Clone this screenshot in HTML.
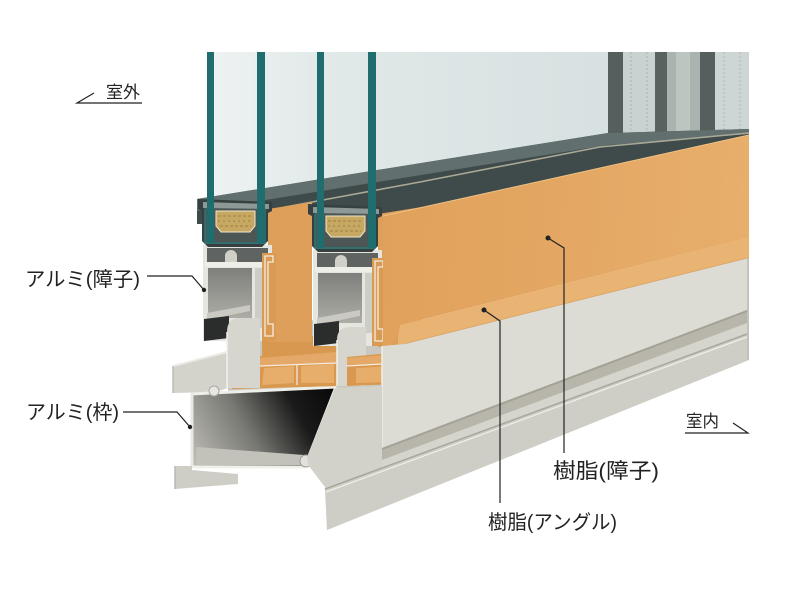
<!DOCTYPE html>
<html><head><meta charset="utf-8">
<style>
html,body{margin:0;padding:0;background:#fff;}
svg{display:block;}
text{font-family:"Liberation Sans","Noto Sans CJK JP",sans-serif;fill:#222;}
</style></head><body>
<svg width="800" height="599" viewBox="0 0 800 599" xmlns="http://www.w3.org/2000/svg">
<defs>
<linearGradient id="glass" x1="207" y1="0" x2="749" y2="0" gradientUnits="userSpaceOnUse">
 <stop offset="0" stop-color="#eef2f2"/>
 <stop offset="0.25" stop-color="#e0e8e8"/>
 <stop offset="1" stop-color="#d3dddd"/>
</linearGradient>
<linearGradient id="orangeF" x1="383" y1="216" x2="749" y2="240" gradientUnits="userSpaceOnUse">
 <stop offset="0" stop-color="#e0a15b"/>
 <stop offset="1" stop-color="#e7ae6c"/>
</linearGradient>
<linearGradient id="chamber" x1="195" y1="466" x2="330" y2="390" gradientUnits="userSpaceOnUse">
 <stop offset="0" stop-color="#bdbdb5"/>
 <stop offset="0.4" stop-color="#7a7a75"/>
 <stop offset="0.75" stop-color="#1a1a1a"/>
 <stop offset="1" stop-color="#0a0a0a"/>
</linearGradient>
<linearGradient id="mainch" x1="0" y1="0" x2="0" y2="1">
 <stop offset="0" stop-color="#7e7f7b"/>
 <stop offset="1" stop-color="#adada6"/>
</linearGradient>
</defs>

<!-- glass -->
<polygon points="207,52 749,52 749,130 608,134 207,198" fill="url(#glass)"/>

<!-- right side frames -->
<rect x="608" y="52" width="15" height="84" fill="#55605e"/>
<rect x="623" y="52" width="32" height="84" fill="#cad2d1"/>
<line x1="631" y1="52" x2="631" y2="134" stroke="#b6c0bf" stroke-width="1.5" stroke-dasharray="2 2"/>
<line x1="647" y1="52" x2="647" y2="134" stroke="#b6c0bf" stroke-width="1.5" stroke-dasharray="2 2"/>
<rect x="655" y="52" width="12" height="84" fill="#58625f"/>
<rect x="667" y="52" width="33" height="84" fill="#aab4ae"/>
<rect x="676" y="52" width="14" height="84" fill="#bcc5c0"/>
<rect x="700" y="52" width="15" height="84" fill="#55605e"/>
<rect x="715" y="52" width="34" height="84" fill="#ced6d5"/>
<line x1="724" y1="52" x2="724" y2="132" stroke="#b8c2c1" stroke-width="1.5" stroke-dasharray="2 2"/>
<line x1="740" y1="52" x2="740" y2="132" stroke="#b8c2c1" stroke-width="1.5" stroke-dasharray="2 2"/>

<!-- dark sash rail band -->
<polygon points="197,199 608,133 749,129 749,142 383,222 197,224" fill="#3f4a4a"/>
<polygon points="197,199 608,133 749,129 749,134 608,145 197,211" fill="#61706e"/>
<polyline points="285,207 420,182 600,147 749,133" fill="none" stroke="#aaa996" stroke-width="1.6"/>

<!-- backdrop for frame area -->
<polygon points="228,330 400,310 400,392 228,392" fill="#c9c8c0"/>

<!-- exterior top fin -->
<polygon points="173,366 227,352 234,352 234,386 216,392 173,393" fill="#d4d3cb"/>
<line x1="173" y1="366" x2="227" y2="352" stroke="#ecebe5" stroke-width="2"/>
<line x1="173" y1="366" x2="173" y2="393" stroke="#bdbcb4" stroke-width="1.5"/>

<!-- lower chamber -->
<polygon points="193,395 334,388 308,456 303,466 193,466" fill="url(#chamber)"/>
<polygon points="196,447 304,455 304,465 196,465" fill="#c2c2ba"/>
<line x1="191" y1="394" x2="336" y2="387" stroke="#efefe9" stroke-width="3"/>
<line x1="192" y1="393" x2="192" y2="468" stroke="#e8e8e2" stroke-width="3"/>
<line x1="192" y1="467" x2="306" y2="467" stroke="#f0f0ea" stroke-width="3"/>
<line x1="336" y1="387" x2="307" y2="461" stroke="#f0f0ea" stroke-width="3"/>
<circle cx="214" cy="391" r="5" fill="#e8e8e2" stroke="#a9a9a2" stroke-width="1"/>
<circle cx="306" cy="461" r="6" fill="#e2e2dc" stroke="#9a9a94" stroke-width="1"/>

<!-- bottom fin -->
<polygon points="175,466 192,466 192,470 238,474 238,484 175,489" fill="#cfcec6"/>
<line x1="175" y1="466" x2="175" y2="489" stroke="#b9b8b0" stroke-width="1.5"/>

<!-- orange frame resin -->
<polygon points="232,360 262,356 262,340 337,334 337,386 232,389" fill="#d9984f"/>
<polygon points="233,358 337,352 337,363 233,366" fill="#e4a868"/>
<polygon points="240,368 294,366 294,383 236,386" fill="#e7ad6a"/>
<polygon points="301,366 334,364 334,383 301,383" fill="#e7ad6a"/>
<line x1="233" y1="366" x2="337" y2="363" stroke="#f4ece0" stroke-width="1.2"/>
<line x1="297" y1="365" x2="297" y2="385" stroke="#f4ece0" stroke-width="1.2"/>

<!-- SASH 1 -->
<g>
 <polygon points="268,209 312,202 312,342 268,342" fill="#dd9f5a"/>
 <rect x="203" y="245" width="69" height="96" fill="#e6e6e0"/>
 <rect x="207" y="248" width="61" height="14" fill="#5f6361"/>
 <circle cx="231" cy="256" r="6" fill="#d0d0c9"/>
 <rect x="225" y="256" width="12" height="7" fill="#d0d0c9"/>
 <rect x="205" y="262" width="65" height="5" fill="#eeeee8"/>
 <rect x="208" y="268" width="44" height="50" fill="url(#mainch)"/>
 <rect x="255" y="268" width="12" height="60" fill="#cdcdc6"/>
 <polygon points="207,313 250,305 250,311 207,320" fill="#cacac2"/>
 <polygon points="204,319 229,316 229,338 204,341" fill="#2b2d2d"/>
 <rect x="262" y="253" width="14" height="88" fill="#d99a54"/>
 <path d="M265,256 h8 v6 h-5 v62 h5 v12 h-8 z" fill="none" stroke="#f3ede2" stroke-width="1.3"/>
 <path d="M198,199 L272,202 L272,211 L268,213 L268,241 L262,247 L208,247 L202,241 L202,211 L198,209 Z" fill="#364040"/>
 <rect x="205" y="206" width="60" height="38" fill="#4c5655"/>
 <polygon points="203,202 269,204 269,209 203,208" fill="#8e9896"/>
 <path d="M205,209 V243 H265 V209" fill="none" stroke="#2c7776" stroke-width="1.5"/>
 <polygon points="216,211 255,211 255,226 250,232 221,232 216,226" fill="#c6a862" stroke="#efe6cf" stroke-width="1"/>
 <line x1="218" y1="216" x2="253" y2="216" stroke="#9c8040" stroke-width="1" stroke-dasharray="3 2"/>
 <line x1="218" y1="221" x2="253" y2="221" stroke="#9c8040" stroke-width="1" stroke-dasharray="2 3"/>
 <line x1="220" y1="226" x2="251" y2="226" stroke="#9c8040" stroke-width="1" stroke-dasharray="3 2"/>
</g>
<!-- rail under sash 1 -->
<path d="M227,332 Q227,318 240,318 L260,318 L260,388 L227,388 Z" fill="#d6d6ce"/>
<line x1="227" y1="332" x2="227" y2="388" stroke="#f2f2ec" stroke-width="1.5"/>
<!-- orange frame top re-draw (in front of rail lower part) -->
<polygon points="260,356 337,350 337,386 260,388" fill="#d9984f"/>
<polygon points="260,358 337,352 337,363 260,366" fill="#e4a868"/>
<polygon points="264,368 294,366 294,383 262,385" fill="#e7ad6a"/>
<polygon points="301,366 334,364 334,383 301,383" fill="#e7ad6a"/>
<line x1="260" y1="366" x2="337" y2="363" stroke="#f4ece0" stroke-width="1.2"/>
<line x1="297" y1="365" x2="297" y2="385" stroke="#f4ece0" stroke-width="1.2"/>

<!-- SASH 2 -->
<g transform="translate(110,5)">
 <polygon points="268,209 312,202 312,342 268,342" fill="#dd9f5a"/>
 <rect x="203" y="245" width="69" height="96" fill="#e6e6e0"/>
 <rect x="207" y="248" width="61" height="14" fill="#5f6361"/>
 <circle cx="231" cy="256" r="6" fill="#d0d0c9"/>
 <rect x="225" y="256" width="12" height="7" fill="#d0d0c9"/>
 <rect x="205" y="262" width="65" height="5" fill="#eeeee8"/>
 <rect x="208" y="268" width="44" height="50" fill="url(#mainch)"/>
 <rect x="255" y="268" width="12" height="60" fill="#cdcdc6"/>
 <polygon points="207,313 250,305 250,311 207,320" fill="#cacac2"/>
 <polygon points="204,319 229,316 229,338 204,341" fill="#2b2d2d"/>
 <rect x="262" y="253" width="14" height="88" fill="#d99a54"/>
 <path d="M265,256 h8 v6 h-5 v62 h5 v12 h-8 z" fill="none" stroke="#f3ede2" stroke-width="1.3"/>
 <path d="M198,199 L272,202 L272,211 L268,213 L268,241 L262,247 L208,247 L202,241 L202,211 L198,209 Z" fill="#364040"/>
 <rect x="205" y="206" width="60" height="38" fill="#4c5655"/>
 <polygon points="203,202 269,204 269,209 203,208" fill="#8e9896"/>
 <path d="M205,209 V243 H265 V209" fill="none" stroke="#2c7776" stroke-width="1.5"/>
 <polygon points="216,211 255,211 255,226 250,232 221,232 216,226" fill="#c6a862" stroke="#efe6cf" stroke-width="1"/>
 <line x1="218" y1="216" x2="253" y2="216" stroke="#9c8040" stroke-width="1" stroke-dasharray="3 2"/>
 <line x1="218" y1="221" x2="253" y2="221" stroke="#9c8040" stroke-width="1" stroke-dasharray="2 3"/>
 <line x1="220" y1="226" x2="251" y2="226" stroke="#9c8040" stroke-width="1" stroke-dasharray="3 2"/>
</g>
<!-- rail under sash 2 -->
<path d="M337,340 Q337,327 350,327 L366,327 L366,386 L337,386 Z" fill="#d6d6ce"/>
<line x1="337" y1="340" x2="337" y2="386" stroke="#f2f2ec" stroke-width="1.5"/>

<!-- front orange panel -->
<polygon points="383,216 749,135 749,238 400,325 398,334 390,348 383,348" fill="url(#orangeF)"/>
<line x1="383" y1="216" x2="749" y2="135" stroke="#efc184" stroke-width="1"/>
<!-- orange piece 2 -->
<polygon points="347,357 400,352 400,384 347,386" fill="#d9984f"/>
<polygon points="347,358 400,354 400,363 347,366" fill="#e4a868"/>
<polygon points="356,368 392,366 392,382 356,383" fill="#e7ad6a"/>
<line x1="347" y1="366" x2="400" y2="363" stroke="#f4ece0" stroke-width="1.2"/>

<!-- ledge (resin angle) -->
<polygon points="398,335 400,325 749,238 749,258 405,344 398,346" fill="#e9b373"/>
<line x1="405" y1="344" x2="749" y2="258" stroke="#d49752" stroke-width="1.2"/>

<!-- gray front frame face -->
<polygon points="398,346 405,344 749,258 749,360 327,530 325,487 309,466 307,458 335,388 382,386 398,384" fill="#d6d5cd"/>
<!-- upper plate -->
<polygon points="382,346 405,344 749,258 747,313 382,452" fill="#dcdbd4"/>
<line x1="382" y1="346" x2="382" y2="452" stroke="#eeeee8" stroke-width="1.5"/>
<!-- groove band -->
<polygon points="382,448 747,310 747,323 382,460" fill="#b8b6aa"/>
<line x1="382" y1="449" x2="747" y2="311" stroke="#a4a296" stroke-width="2"/>
<!-- diagonal plate -->
<polygon points="335,388 382,386 382,470 325,487 309,466 307,458" fill="#d3d2ca"/>
<!-- ridge + bottom band -->
<polygon points="325,489 747,334 749,360 327,530" fill="#cfcec6"/>
<line x1="325" y1="489" x2="747" y2="334" stroke="#a9a79c" stroke-width="1.5"/>
<line x1="326" y1="492" x2="747" y2="337" stroke="#efeee8" stroke-width="1.2"/>
<line x1="748" y1="258" x2="748" y2="360" stroke="#bdbcb4" stroke-width="1.5"/>

<!-- teal glass panes -->
<rect x="207" y="52" width="7" height="191" fill="#1f6d6f"/>
<rect x="257" y="52" width="8" height="191" fill="#1f6d6f"/>
<rect x="317" y="52" width="7" height="196" fill="#1f6d6f"/>
<rect x="368" y="52" width="8" height="196" fill="#1f6d6f"/>

<!-- leaders -->
<g stroke="#222" stroke-width="1.2" fill="none">
 <polyline points="147,276 192,276 204,290"/>
 <polyline points="123,412 177,412 190,427"/>
 <polyline points="548,238 564,248 564,453"/>
 <polyline points="484,310 500,321 500,503"/>
 <polyline points="94,93 77,103 142,103"/>
 <polyline points="685,433 748,433 733,423"/>
</g>
<g fill="#222">
 <circle cx="204" cy="290" r="2.2"/>
 <circle cx="190" cy="427" r="2.2"/>
 <circle cx="548" cy="238" r="2.5"/>
 <circle cx="484" cy="310" r="2.5"/>
</g>

<!-- labels -->
<text x="106" y="98" font-size="17" textLength="34" lengthAdjust="spacingAndGlyphs">室外</text>
<text x="25" y="286" font-size="20" textLength="115" lengthAdjust="spacingAndGlyphs">アルミ(障子)</text>
<text x="26" y="419" font-size="20" textLength="93" lengthAdjust="spacingAndGlyphs">アルミ(枠)</text>
<text x="686" y="427" font-size="17" textLength="33" lengthAdjust="spacingAndGlyphs">室内</text>
<text x="553" y="478" font-size="21" textLength="106" lengthAdjust="spacingAndGlyphs">樹脂(障子)</text>
<text x="488" y="529" font-size="20" textLength="129" lengthAdjust="spacingAndGlyphs">樹脂(アングル)</text>
</svg>
</body></html>
